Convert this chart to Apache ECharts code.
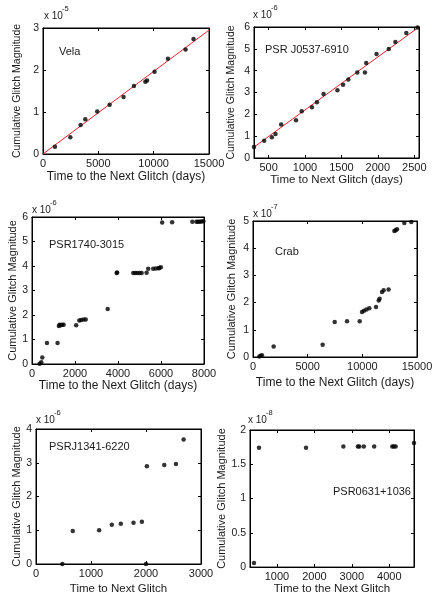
<!DOCTYPE html>
<html>
<head>
<meta charset="utf-8">
<script src="https://cdn.jsdelivr.net/npm/echarts@6/dist/echarts.min.js"></script>
<style>
html,body{margin:0;padding:0;background:#fff;}
#c{width:436px;height:596px;}
</style>
</head>
<body>
<div id="c"></div>
<script>
// ---------- DATA (values in units of the panel's exponent) ----------
const velaX = [1080, 2470, 3400, 3820, 4900, 6020, 7280, 8220, 9250, 9400, 10080, 11290, 12880, 13600];
const velaY = [0.175, 0.40, 0.69, 0.83, 1.01, 1.17, 1.36, 1.62, 1.72, 1.75, 1.96, 2.27, 2.49, 2.74];
const velaFitX = [0, 15000];
const velaFitY = [0, 2.95];

const j0537X = [300, 440, 545, 595, 673, 877, 955, 1095, 1164, 1255, 1445, 1523, 1595, 1718, 1823, 1841, 1982, 2150, 2241, 2391, 2545];
const j0537Y = [0.5, 0.79, 0.95, 1.10, 1.53, 1.73, 2.14, 2.32, 2.55, 2.93, 3.10, 3.36, 3.59, 3.92, 3.92, 4.35, 4.76, 4.99, 5.31, 5.73, 5.98];
const j0537FitX = [300, 2565];
const j0537FitY = [0.5, 6.0];

const j1740X = [355, 432, 479, 695, 1189, 1250, 1282, 1330, 1400, 1470, 2054, 2200, 2286, 2400, 2500, 3521, 3938, 3960, 4710, 4800, 4900, 5000, 5100, 5330, 5405, 5637, 5760, 5880, 5920, 5992, 6054, 6518, 7460, 7650, 7720, 7800, 7880, 7970];
const j1740Y = [0.01, 0.07, 0.27, 0.86, 0.86, 1.55, 1.60, 1.58, 1.60, 1.60, 1.58, 1.78, 1.80, 1.82, 1.82, 2.25, 3.71, 3.73, 3.71, 3.71, 3.71, 3.71, 3.71, 3.72, 3.89, 3.89, 3.90, 3.91, 3.92, 3.95, 5.78, 5.79, 5.81, 5.81, 5.81, 5.81, 5.82, 5.83];

const crabX = [580, 700, 820, 1890, 6370, 7470, 8600, 9760, 9970, 10150, 10380, 10640, 11250, 11500, 11580, 11800, 11950, 12400, 12930, 13050, 13170, 13840, 14480];
const crabY = [0.02, 0.05, 0.06, 0.39, 0.45, 1.29, 1.31, 1.31, 1.65, 1.70, 1.75, 1.79, 1.84, 2.08, 2.14, 2.39, 2.45, 2.48, 4.63, 4.66, 4.70, 4.93, 4.96];

const j1341X = [480, 668, 1148, 1378, 1542, 1773, 1925, 2000, 2016, 2332, 2544, 2684];
const j1341Y = [0, 0.98, 1.0, 1.16, 1.19, 1.22, 1.25, 0.0, 2.90, 2.93, 2.96, 3.69];

const b0631X = [387, 520, 1776, 2773, 3160, 3200, 3320, 3596, 4080, 4120, 4170, 4660];
const b0631Y = [0.06, 1.74, 1.74, 1.76, 1.76, 1.76, 1.76, 1.76, 1.76, 1.76, 1.76, 1.81];

const names = ['Vela', 'PSR J0537-6910', 'PSR1740-3015', 'Crab', 'PSRJ1341-6220', 'PSR0631+1036'];
const exponents = ['-5', '-6', '-6', '-7', '-6', '-8'];
const xTitles = ['Time to the Next Glitch (days)', 'Time to Next Glitch (days)', 'Time to the Next Glitch (days)', 'Time to the Next Glitch (days)', 'Time to Next Glitch', 'Time to the Next Glitch'];
const yTitle = 'Cumulative Glitch Magnitude';
const xTicks = [[0, 5000, 10000, 15000], [500, 1000, 1500, 2000, 2500], [0, 2000, 4000, 6000, 8000], [0, 5000, 10000, 15000], [0, 1000, 2000, 3000], [1000, 2000, 3000, 4000]];
const yTicks = [[0, 1, 2, 3], [0, 1, 2, 3, 4, 5, 6], [0, 1, 2, 3, 4, 5, 6], [0, 1, 2, 3, 4, 5], [0, 1, 2, 3, 4], [0, 0.5, 1, 1.5, 2]];
const xRanges = [[0, 15000], [300, 2565], [0, 8000], [0, 15000], [0, 3000], [280, 4660]];
const yRanges = [[0, 3], [0, 6], [0, 6], [0, 5], [0, 4], [0, 2]];

const pointsX = [velaX, j0537X, j1740X, crabX, j1341X, b0631X];
const pointsY = [velaY, j0537Y, j1740Y, crabY, j1341Y, b0631Y];
const fitsX = [velaFitX, j0537FitX, null, null, null, null];
const fitsY = [velaFitY, j0537FitY, null, null, null, null];

// ---------- LAYOUT ----------
const FONT = 'Liberation Sans, Arial, sans-serif';
const TXT = '#1a1a1a';
const layout = [
  {grid: {left: 43, top: 28, width: 166, height: 126}, xGap: 17, yGap: 20, xFs: 12, yFs: 10.5,
   expPos: [44, 17], namePos: [59, 52]},
  {grid: {left: 254, top: 27, width: 165, height: 131}, xGap: 16, yGap: 17, xFs: 11.5, yFs: 10.5,
   expPos: [253, 16], namePos: [265, 50]},
  {grid: {left: 32, top: 217, width: 172, height: 147}, xGap: 13, yGap: 12, xFs: 12, yFs: 11,
   expPos: [32, 211], namePos: [49, 245]},
  {grid: {left: 253, top: 221, width: 164, height: 136}, xGap: 20, yGap: 16, xFs: 12, yFs: 11,
   expPos: [253, 215], namePos: [275, 252]},
  {grid: {left: 36, top: 429, width: 165, height: 137}, xGap: 19, yGap: 14, xFs: 11.5, yFs: 11,
   expPos: [36, 421], namePos: [49, 447]},
  {grid: {left: 250, top: 430, width: 164, height: 140}, xGap: 13, yGap: 16, xFs: 11.5, yFs: 11,
   expPos: [248, 421], namePos: [333, 492]}
];

const grids = [], xAxes = [], yAxes = [], series = [], graphics = [];
const plain = v => String(v);

layout.forEach((L, i) => {
  grids.push(Object.assign({show: true, borderColor: '#000', borderWidth: 1, containLabel: false}, L.grid));
  const common = (ticks) => ({
    axisLine: {show: true, onZero: false, lineStyle: {color: '#000', width: 1}},
    axisTick: {show: true, inside: true, length: 3, customValues: ticks, lineStyle: {color: '#000'}},
    splitLine: {show: false}
  });
  xAxes.push(Object.assign(common(xTicks[i]), {
    type: 'value', gridIndex: i, position: 'bottom', min: xRanges[i][0], max: xRanges[i][1],
    name: xTitles[i], nameLocation: 'middle', nameGap: L.xGap,
    nameTextStyle: {fontFamily: FONT, fontSize: L.xFs, color: TXT},
    axisLabel: {show: true, customValues: xTicks[i], formatter: plain, margin: 4, fontFamily: FONT, fontSize: 11, color: TXT,
      showMinLabel: true, showMaxLabel: true, hideOverlap: false}
  }));
  xAxes.push(Object.assign(common(xTicks[i]), {
    type: 'value', gridIndex: i, position: 'top', min: xRanges[i][0], max: xRanges[i][1],
    axisLabel: {show: false}
  }));
  yAxes.push(Object.assign(common(yTicks[i]), {
    type: 'value', gridIndex: i, position: 'left', min: yRanges[i][0], max: yRanges[i][1],
    name: yTitle, nameLocation: 'middle', nameGap: L.yGap, nameRotate: 90,
    nameTextStyle: {fontFamily: FONT, fontSize: L.yFs, color: TXT},
    axisLabel: {show: true, customValues: yTicks[i], formatter: plain, margin: 4, fontFamily: FONT, fontSize: 10.5, color: TXT,
      showMinLabel: true, showMaxLabel: true, hideOverlap: false}
  }));
  yAxes.push(Object.assign(common(yTicks[i]), {
    type: 'value', gridIndex: i, position: 'right', min: yRanges[i][0], max: yRanges[i][1],
    axisLabel: {show: false}
  }));

  const pts = pointsX[i].map((x, k) => [x, pointsY[i][k]]);
  if (fitsX[i]) {
    series.push({
      type: 'line', xAxisIndex: 2 * i, yAxisIndex: 2 * i,
      data: fitsX[i].map((x, k) => [x, fitsY[i][k]]),
      symbol: 'none', lineStyle: {color: '#e8232a', width: 1}, silent: true, z: 2
    });
  }
  series.push({
    type: 'scatter', xAxisIndex: 2 * i, yAxisIndex: 2 * i, data: pts,
    symbol: 'circle', symbolSize: 4.5, itemStyle: {color: '#000'}, clip: false, z: 3
  });

  graphics.push({
    type: 'text', left: L.expPos[0], top: L.expPos[1] - 6,
    style: {text: 'x 10', fontFamily: FONT, fontSize: 10, fill: TXT}
  });
  graphics.push({
    type: 'text', left: L.expPos[0] + 18, top: L.expPos[1] - 12,
    style: {text: exponents[i], fontFamily: FONT, fontSize: 7.5, fill: TXT}
  });
  graphics.push({
    type: 'text', left: L.namePos[0], top: L.namePos[1] - 6,
    style: {text: names[i], fontFamily: FONT, fontSize: 11, fill: TXT}
  });
});

const chart = echarts.init(document.getElementById('c'), null, {renderer: 'canvas'});
chart.setOption({
  animation: false,
  backgroundColor: '#fff',
  grid: grids,
  xAxis: xAxes,
  yAxis: yAxes,
  series: series,
  graphic: graphics
});
</script>
</body>
</html>
